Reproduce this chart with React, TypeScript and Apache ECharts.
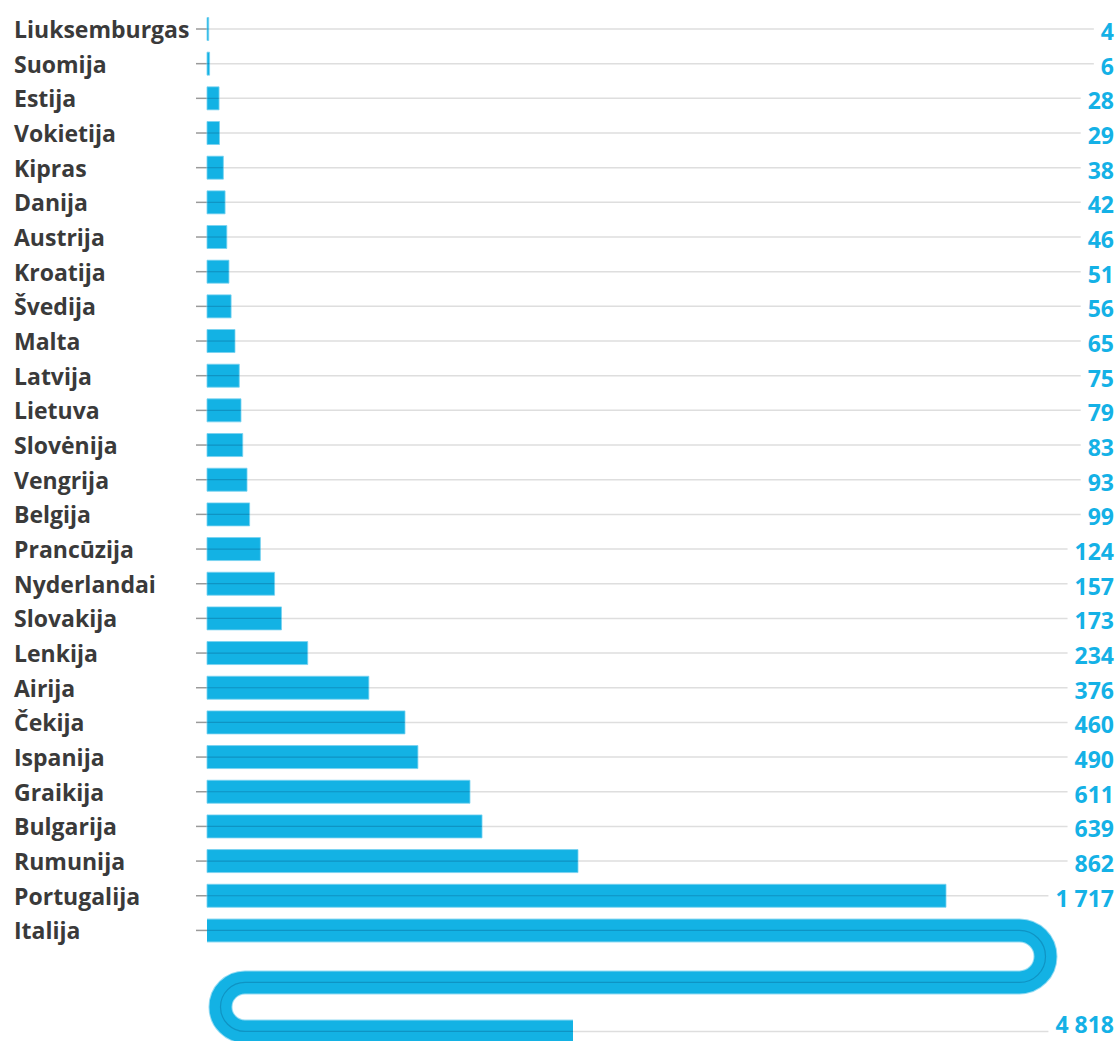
import React, { useEffect, useRef } from "react";
import * as echarts from "echarts";

const countries = [
  "Liuksemburgas", "Suomija", "Estija", "Vokietija", "Kipras", "Danija", "Austrija",
  "Kroatija", "Švedija", "Malta", "Latvija", "Lietuva", "Slovėnija", "Vengrija",
  "Belgija", "Prancūzija", "Nyderlandai", "Slovakija", "Lenkija", "Airija", "Čekija",
  "Ispanija", "Graikija", "Bulgarija", "Rumunija", "Portugalija", "Italija",
];
const values = [
  4, 6, 28, 29, 38, 42, 46, 51, 56, 65, 75, 79, 83, 93, 99, 124, 157, 173, 234,
  376, 460, 490, 611, 639, 862, 1717, 4818,
];

const BLUE = "#13b2e4";
const VALUE_BLUE = "#14b1e6";
const TEXT = "#3a3a3a";
const FONT = "'Open Sans', 'Noto Sans', sans-serif";
const FONT_SIZE = 23;

function fmt(v: number): string {
  return String(v).replace(/\B(?=(\d{3})+(?!\d))/g, " ");
}

export default function App() {
  const ref = useRef<HTMLDivElement>(null);
  useEffect(() => {
    if (!ref.current) return;
    const chart = echarts.init(ref.current, null, { renderer: "svg" });
    const LABEL_RIGHT = 1114;
    const xMax = 2100;
    const pxPerUnit = 739 / 1717;
    const gridLeft = 207;
    const gridWidth = xMax * pxPerUnit;
    const band = 34.67;
    const gridTop = 29 - band / 2;

    const valueText = (x: number, y: number, v: number) => ({
      type: "text",
      x,
      y,
      style: {
        text: fmt(v),
        align: "right",
        verticalAlign: "middle",
        fill: VALUE_BLUE,
        font: `bold ${FONT_SIZE}px ${FONT}`,
        lineHeight: 20,
        backgroundColor: "#ffffff",
        padding: [0, 0, 0, 7],
      },
    });

    const renderItem = (params: any, api: any) => {
      const idx = api.value(1);
      const v = api.value(0);
      const [x0, y] = api.coord([0, idx]);
      const [x1] = api.coord([v, idx]);
      const bw = api.size([0, 1])[1];
      const barH = 23;
      const children: any[] = [];
      const L = x1 - x0;
      const rightCx = 1019.5;
      const leftCx = 245;
      const r1 = bw * 0.75;
      const r2 = bw * 0.707;
      const firstLen = rightCx - x0;
      if (L <= firstLen + 20) {
        children.push({
          type: "line",
          shape: { x1: x0, y1: y, x2: LABEL_RIGHT, y2: y },
          style: { stroke: "#dedede", lineWidth: 1.5 },
        });
        children.push({
          type: "line",
          shape: { x1: x0 - 11, y1: y, x2: x0, y2: y },
          style: { stroke: "#9a9a9a", lineWidth: 1.5 },
        });
        children.push({
          type: "rect",
          shape: { x: x0, y: y - barH / 2, width: Math.max(L, 1.5), height: barH },
          style: { fill: BLUE, stroke: "rgba(120,210,240,0.8)", lineWidth: 1 },
        });
        children.push({
          type: "line",
          shape: { x1: x0, y1: y, x2: x1, y2: y },
          style: { stroke: "rgba(0,40,80,0.22)", lineWidth: 1.2 },
        });
        children.push(valueText(LABEL_RIGHT, y + 2, v));
      } else {
        const y2 = y + 2 * r1;
        const y3 = y2 + 2 * r2;
        const rest = L - firstLen - Math.PI * r1 - (rightCx - leftCx) - Math.PI * r2;
        const xe = leftCx + rest;
        const d =
          `M ${x0} ${y} L ${rightCx} ${y} ` +
          `A ${r1} ${r1} 0 0 1 ${rightCx} ${y2} ` +
          `L ${leftCx} ${y2} ` +
          `A ${r2} ${r2} 0 0 0 ${leftCx} ${y3} ` +
          `L ${xe} ${y3}`;
        children.push({
          type: "line",
          shape: { x1: xe, y1: y3, x2: LABEL_RIGHT, y2: y3 },
          style: { stroke: "#dedede", lineWidth: 1.5 },
        });
        children.push({
          type: "line",
          shape: { x1: x0 - 11, y1: y, x2: x0, y2: y },
          style: { stroke: "#9a9a9a", lineWidth: 1.5 },
        });
        children.push({
          type: "path",
          shape: { pathData: d },
          style: { fill: "none", stroke: "rgba(120,210,240,0.8)", lineWidth: barH + 1, lineCap: "butt" },
        });
        children.push({
          type: "path",
          shape: { pathData: d },
          style: { fill: "none", stroke: BLUE, lineWidth: barH - 1, lineCap: "butt" },
        });
        children.push({
          type: "path",
          shape: { pathData: d },
          style: { fill: "none", stroke: "rgba(0,40,80,0.22)", lineWidth: 1.2 },
        });
        children.push(valueText(LABEL_RIGHT, y3 - 7, v));
      }
      return { type: "group", children };
    };

    chart.setOption({
      animation: false,
      grid: {
        left: gridLeft,
        width: gridWidth,
        top: gridTop,
        height: band * countries.length,
        containLabel: false,
      },
      xAxis: {
        type: "value",
        min: 0,
        max: xMax,
        show: false,
      },
      yAxis: {
        type: "category",
        data: countries,
        inverse: true,
        axisLine: { show: false },
        axisTick: { show: false },
        splitLine: { show: false },
        axisLabel: {
          align: "left",
          margin: gridLeft - 14,
          color: TEXT,
          fontSize: FONT_SIZE,
          fontWeight: "bold",
          fontFamily: FONT,
          padding: [3, 0, 0, 0],
        },
      },
      series: [
        {
          type: "custom",
          renderItem,
          clip: false,
          encode: { x: 0, y: 1 },
          data: values.map((v, i) => [v, i]),
        },
      ],
    });
    return () => chart.dispose();
  }, []);
  return (
    <div
      ref={ref}
      style={{ position: "absolute", left: 0, top: 0, width: 1120, height: 1041 }}
    />
  );
}
